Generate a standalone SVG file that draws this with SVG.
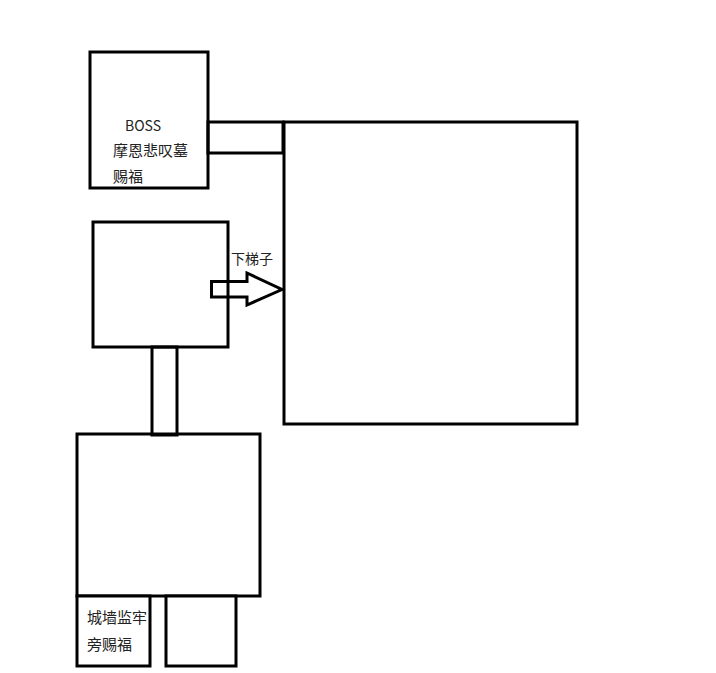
<svg xmlns="http://www.w3.org/2000/svg" width="716" height="673" viewBox="0 0 716 673">
<style>
.b{fill:#fff;stroke:#000;stroke-width:3}
.c{fill:none;stroke:#000;stroke-width:3}
.t{font-family:"Noto Sans CJK SC","Liberation Sans",sans-serif;fill:#222}
</style>
<rect width="716" height="673" fill="#fff"/>
<g id="boss">
<rect class="b" x="90" y="52" width="118" height="136"/>
<text class="t" x="125" y="131" font-size="14">BOSS</text>
<text class="t" x="113" y="156" font-size="15">摩恩悲叹墓</text>
<text class="t" x="113" y="182" font-size="15">赐福</text>
</g>
<g id="bigroom">
<rect class="b" x="284" y="122" width="293" height="302"/>
</g>
<g id="room2">
<rect class="b" x="93" y="222" width="135" height="125"/>
</g>
<g id="room3">
<rect class="b" x="77" y="434" width="183" height="162"/>
</g>
<g id="grace2">
<rect class="b" x="77" y="596" width="73" height="70"/>
<text class="t" x="87" y="623" font-size="15">城墙监牢</text>
<text class="t" x="87" y="650" font-size="15">旁赐福</text>
</g>
<g id="room4">
<rect class="b" x="166" y="596" width="70" height="70"/>
</g>
<g id="connectors">
<rect class="c" x="208" y="122" width="75" height="31"/>
<rect class="c" x="152" y="347" width="25" height="88"/>
<path class="c" d="M211.5,281.5 H247 V273 L282,289.5 L247,305 V297 H211.5 Z"/>
<text class="t" x="231" y="264" font-size="14">下梯子</text>
</g>
</svg>
